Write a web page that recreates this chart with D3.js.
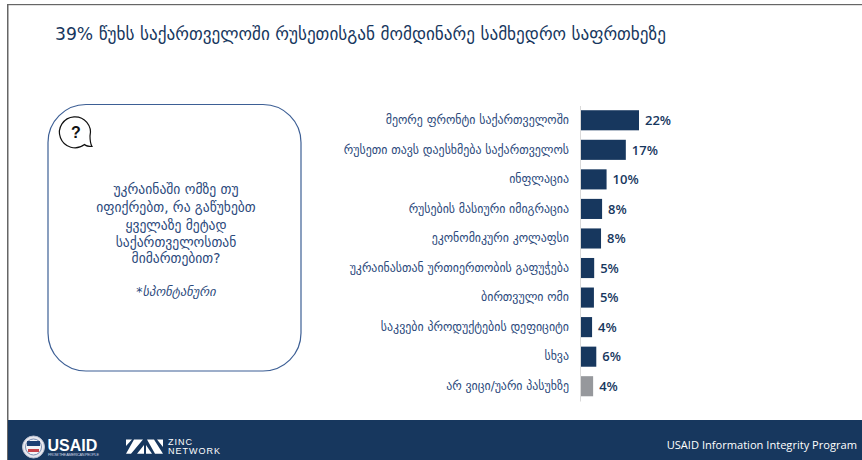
<!DOCTYPE html>
<html><head><meta charset="utf-8">
<script src="https://cdn.jsdelivr.net/npm/d3@7"></script>
<style>html,body{margin:0;padding:0;background:#fff}svg{display:block}
text{font-family:"DejaVu Sans","Open Sans",sans-serif}</style></head>
<body><div id="c"></div>
<script>
const categories=["მეორე ფრონტი საქართველოში","რუსეთი თავს დაესხმება საქართველოს","ინფლაცია","რუსების მასიური იმიგრაცია","ეკონომიკური კოლაფსი","უკრაინასთან ურთიერთობის გაფუჭება","ბირთვული ომი","საკვები პროდუქტების დეფიციტი","სხვა","არ ვიცი/უარი პასუხზე"];
const values=[22,17,9.7,8,7.6,5,4.9,4.2,5.8,4.6];
const valueLabels=["22%","17%","10%","8%","8%","5%","5%","4%","6%","4%"];
const barColors=["#17375e","#17375e","#17375e","#17375e","#17375e","#17375e","#17375e","#17375e","#17375e","#96989c"];
const titleText="39% წუხს საქართველოში რუსეთისგან მომდინარე სამხედრო საფრთხეზე";
const questionLines=["უკრაინაში ომზე თუ","იფიქრებთ, რა გაწუხებთ","ყველაზე მეტად","საქართველოსთან","მიმართებით?"];
const noteText="*სპონტანური";
const footerText="USAID Information Integrity Program";
const W=862,H=460,navy="#17375e";
const svg=d3.select("#c").append("svg").attr("width",W).attr("height",H);
svg.append("rect").attr("width",W).attr("height",H).attr("fill","#fff");
svg.append("rect").attr("x",7).attr("y",4).attr("width",1.5).attr("height",H-4).attr("fill","#666");
svg.append("rect").attr("x",7).attr("y",4).attr("width",W-7).attr("height",1.2).attr("fill","#666");
svg.append("rect").attr("x",8).attr("y",420).attr("width",W-8).attr("height",40).attr("fill",navy);
svg.append("text").attr("x",55).attr("y",40).attr("fill",navy).attr("font-size",17.2).text(titleText);
svg.append("rect").attr("x",48).attr("y",104.5).attr("width",253).attr("height",266.5).attr("rx",38).attr("fill","#fff").attr("stroke","#3d5f95").attr("stroke-width",1.2);
svg.append("path").attr("d","M84.5,144.5 A15.5,15.5 0 1 1 90,136 C90,140 90.5,144 92,146.5 C89,146.5 86,146 84.5,144.5 Z").attr("fill","#fff").attr("stroke","#111").attr("stroke-width",1.2);
svg.append("text").attr("x",76).attr("y",138).attr("text-anchor","middle").attr("font-size",16).attr("font-weight",700).attr("fill","#111").style("font-family","'Liberation Sans'").text("?");
const qy=[194,212,229.5,246.5,263];
svg.selectAll("text.q").data(questionLines).join("text").attr("class","q").attr("x",176).attr("y",(d,i)=>qy[i]).attr("text-anchor","middle").attr("fill","#2c4a7c").attr("font-size",13.6).text(d=>d);
svg.append("text").attr("x",176).attr("y",295.5).attr("text-anchor","middle").attr("fill","#2c4a7c").attr("font-size",12.5).attr("font-style","italic").text(noteText);
const x=d3.scaleLinear().domain([0,22]).range([581,639]);
const y=d3.scaleBand().domain(categories).range([105.5,401]).paddingInner(0.32).paddingOuter(0.16);
const g=svg.append("g");
g.selectAll("rect.b").data(categories).join("rect").attr("class","b").attr("x",x(0)).attr("y",d=>y(d)).attr("width",(d,i)=>x(values[i])-x(0)).attr("height",y.bandwidth()).attr("fill",(d,i)=>barColors[i]);
g.append("g").attr("transform","translate(580,0)").call(d3.axisLeft(y).tickSize(0).tickPadding(11)).call(a=>{a.select(".domain").attr("stroke","#d9d9d9");a.selectAll("text").attr("fill","#2c4a7c").attr("font-size",11.9).style("font-family","'DejaVu Sans'");});
g.selectAll("text.v").data(categories).join("text").attr("class","v").attr("x",(d,i)=>x(values[i])+6).attr("y",d=>y(d)+y.bandwidth()/2).attr("dy","0.36em").attr("fill",navy).attr("font-size",13).attr("font-weight",600).style("font-family","'Open Sans'").text((d,i)=>valueLabels[i]);
// USAID seal
svg.append("circle").attr("cx",33.5).attr("cy",447).attr("r",11).attr("fill","#e8e8ee").attr("stroke","#b8bfd0");
svg.append("circle").attr("cx",33.5).attr("cy",447).attr("r",8).attr("fill","#f4f4f6").attr("stroke","#5a74a0").attr("stroke-width",0.8);
svg.append("rect").attr("x",27).attr("y",441).attr("width",13).attr("height",5).attr("fill","#1d3f72");
svg.append("rect").attr("x",28).attr("y",449).attr("width",11).attr("height",3).attr("fill","#c8434a");
svg.append("text").attr("x",47.5).attr("y",451.2).attr("fill","#fff").attr("font-size",16).attr("font-weight",700).style("font-family","'Liberation Sans'").text("USAID");
svg.append("text").attr("x",48).attr("y",456).attr("fill","#cdd5e2").attr("font-size",3.8).attr("textLength",51).style("font-family","'Liberation Sans'").text("FROM THE AMERICAN PEOPLE");
// Zinc mark
svg.append("path").attr("fill","#fff").attr("d","M126,439.5 H132 L126,446 Z M134,439.5 H143 L131,453.7 H126 Z M137,453.7 H144 V445 Z M146,453.7 V445 L152,453.7 Z M147,439.5 H154 L163,453.7 H155 Z M157,439.5 H163 V447 Z");
svg.append("text").attr("x",168).attr("y",445).attr("fill","#fff").attr("font-size",9).attr("letter-spacing",1).style("font-family","'Liberation Sans'").text("ZINC");
svg.append("text").attr("x",168).attr("y",454).attr("fill","#fff").attr("font-size",9).attr("letter-spacing",1).style("font-family","'Liberation Sans'").text("NETWORK");
svg.append("text").attr("x",857).attr("y",449).attr("text-anchor","end").attr("fill","#fff").attr("font-size",11.1).style("font-family","'Open Sans'").text(footerText);
</script></body></html>
